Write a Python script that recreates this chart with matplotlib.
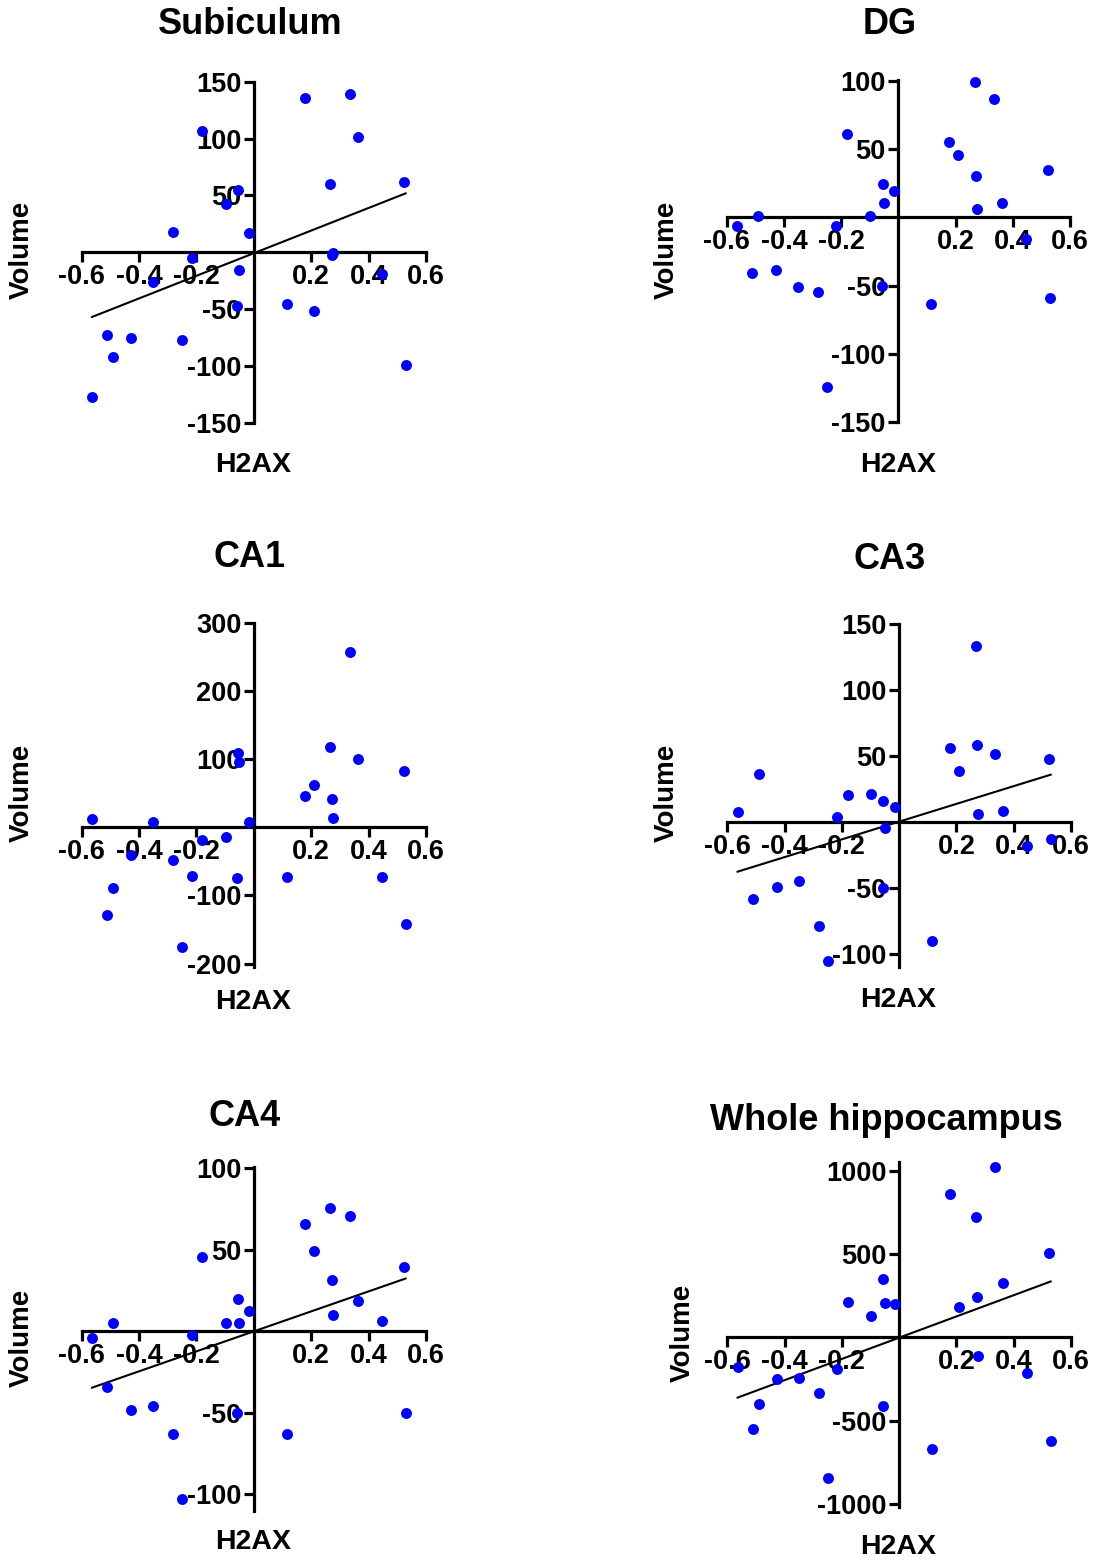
import numpy as np
import matplotlib
matplotlib.use('Agg')
import matplotlib.pyplot as plt

plt.rcParams['font.family'] = ['Liberation Sans', 'DejaVu Sans']
plt.rcParams['font.weight'] = 'bold'

# H2AX per subject, shared by every panel
h2ax = [-0.564, -0.512, -0.491, -0.427, -0.351, -0.281, -0.250, -0.217, -0.179, -0.098,
        -0.055, -0.051, -0.057, -0.016, 0.114, 0.178, 0.210, 0.267, 0.273, 0.276,
        0.335, 0.364, 0.445, 0.524, 0.529]

# volume per subject for each region
subiculum = [-127, -73, -92.6, -75.6, -26.5, 17.6, -77, -5.3, 106.8, 42.6,
             54.4, -15.6, -47.6, 16.8, -45.6, 135.3, -52, 59.7, -2.9, -1.0,
             138.8, 101.5, -19.1, 61.8, -99.4]
dg = [-6.3, -40.5, 1.2, -38.3, -51.2, -54.9, -124.4, -6.1, 61, 1,
      24.6, 11, -50, 19.3, -63.7, 55.4, 45.6, 99.3, 30.5, 5.9,
      87.1, 10.7, -15.9, 34.6, -58.8]
ca1 = [12.2, -128, -89, -41.4, 8.3, -48.7, -175, -71.5, -18.5, -14.1,
       109.5, 95, -74.5, 8.3, -73.5, 45.3, 62.3, 117.8, 41.4, 13.1,
       257, 100.7, -73, 82.7, -142.6]
ca3 = [7.3, -58.6, 36.1, -49.5, -45.2, -78.8, -105.3, 3.5, 20.5, 21,
       15.4, -4.8, -50.3, 11.1, -90.7, 56.3, 38.1, 133.6, 58.3, 5.8,
       51.5, 8.3, -18.7, 47.5, -13.1]
ca4 = [-4.1, -34.3, 5.1, -48, -45.9, -62.7, -102.7, -2.4, 45.9, 5.1,
       20, 5.1, -50, 12.7, -62.7, 65.7, 49.4, 75.5, 31.6, 9.8,
       70.8, 18.4, 6.1, 39.4, -50.4]
whole = [-180, -552, -402, -248, -246, -332, -846, -192, 214, 130,
         348, 204, -412, 200, -672, 860, 184, 720, 244, -110,
         1024, 328, -216, 504, -622]

x_ticks = [-0.6, -0.4, -0.2, 0.2, 0.4, 0.6]
x_labels = ['-0.6', '-0.4', '-0.2', '0.2', '0.4', '0.6']

W, H = 1096, 1560
fig = plt.figure(figsize=(W / 100, H / 100), dpi=100)

# title, values, y ticks, y limits, axes box (px: left, top, right, bottom),
# regression line?, title pos, "Volume" pos, "H2AX" pos
panels = [
    ('Subiculum', subiculum, [-150, -100, -50, 50, 100, 150], (-150, 150),
     (81.7, 81.7, 426, 422.7), True, (250, 25), (22, 250), (253, 465)),
    ('DG', dg, [-150, -100, -50, 50, 100], (-150, 101),
     (726.7, 80.0, 1070, 421.7), False, (890, 25), (667, 250), (898, 465)),
    ('CA1', ca1, [-200, -100, 100, 200, 300], (-205, 300),
     (81.7, 622.7, 426, 967), False, (250, 557), (22, 793), (253, 1002)),
    ('CA3', ca3, [-100, -50, 50, 100, 150], (-110, 150),
     (727.3, 624, 1071, 966.7), True, (890, 559), (667, 793), (898, 1000)),
    ('CA4', ca4, [-100, -50, 50, 100], (-110, 101),
     (81.7, 1166.7, 426, 1510.6), True, (245, 1117), (22, 1338), (253, 1542)),
    ('Whole hippocampus', whole, [-1000, -500, 500, 1000], (-1015, 1050),
     (727.3, 1162.4, 1071, 1506.5), True, (886, 1120), (683, 1333), (898, 1547)),
]

for title, vals, yt, ylim, box, fit, tpos, vpos, hpos in panels:
    l, t, r, b = box
    ax = fig.add_axes([l / W, 1 - b / H, (r - l) / W, (b - t) / H])
    ax.set_xlim(-0.6, 0.6)
    ax.set_ylim(*ylim)
    for s in ['top', 'right']:
        ax.spines[s].set_visible(False)
    for s in ['left', 'bottom']:
        ax.spines[s].set_position(('data', 0))
        ax.spines[s].set_linewidth(2.3)
    ax.set_xticks(x_ticks)
    ax.set_xticklabels(x_labels)
    ax.set_yticks(yt)
    ax.set_yticklabels([str(v) for v in yt])
    ax.tick_params(axis='both', direction='out', length=7, width=2.3, labelsize=19.5)
    ax.tick_params(axis='x', pad=1.5)
    ax.tick_params(axis='y', pad=2)
    for lab in ax.get_xticklabels() + ax.get_yticklabels():
        lab.set_fontweight('bold')
    ax.patch.set_visible(False)

    ax.scatter(h2ax, vals, s=62, color='#0000ff', zorder=3, clip_on=False, linewidths=0)
    if fit:
        slope, icpt = np.polyfit(h2ax, vals, 1)
        xx = np.array([min(h2ax), max(h2ax)])
        ax.plot(xx, slope * xx + icpt, color='black', lw=1.5, zorder=2)

    fig.text(tpos[0] / W, 1 - tpos[1] / H, title, fontsize=26, fontweight='bold',
             ha='center', va='center')
    fig.text(vpos[0] / W, 1 - vpos[1] / H, 'Volume', fontsize=20, fontweight='bold',
             ha='center', va='center', rotation=90)
    fig.text(hpos[0] / W, 1 - hpos[1] / H, 'H2AX', fontsize=20.5, fontweight='bold',
             ha='center', va='center')

fig.savefig('out.png', dpi=100)
